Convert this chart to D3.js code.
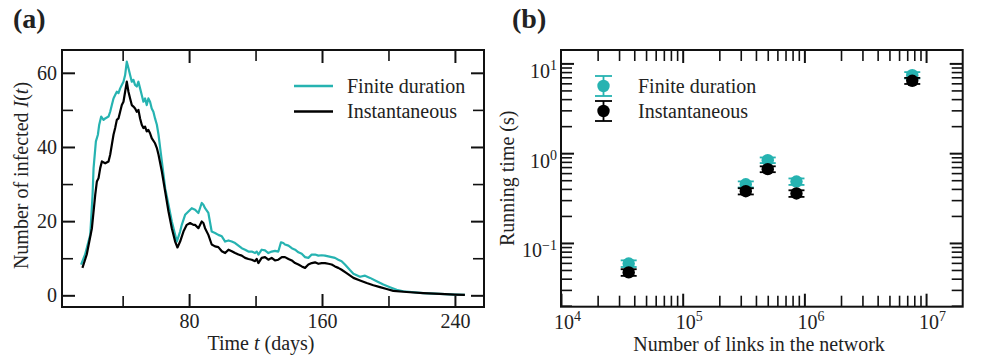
<!DOCTYPE html>
<html>
<head>
<meta charset="utf-8">
<script src="https://cdn.jsdelivr.net/npm/d3@7"></script>
<style>
  body { margin: 0; background: #fff; }
  text { font-family: "Liberation Serif", "DejaVu Serif", serif; fill: #222; }
</style>
</head>
<body>
<svg id="fig" width="982" height="360"></svg>
<script>
// ---- data ----
const finiteDuration = [[15.0,8.3],[17.4,11.0],[20.5,16.3],[21.9,27.1],[22.5,34.3],[23.9,41.5],[25.1,43.3],[25.9,46.0],[27.1,48.2],[28.5,47.3],[29.5,47.7],[31.5,48.2],[32.5,49.5],[33.5,51.3],[34.5,53.1],[35.5,54.0],[36.5,54.9],[37.5,54.5],[38.5,55.8],[39.5,56.7],[40.5,57.6],[41.5,59.4],[42.5,63.0],[43.5,61.2],[44.5,59.4],[45.5,57.6],[46.5,58.1],[47.5,56.7],[48.5,56.3],[49.5,57.6],[50.5,55.8],[51.5,54.0],[52.5,52.2],[53.5,53.1],[54.5,51.3],[55.5,53.1],[56.5,52.2],[57.5,50.4],[58.5,49.5],[59.5,47.7],[60.6,46.0],[61.6,43.3],[62.6,39.7],[63.6,36.1],[64.6,32.5],[65.6,28.9],[67.6,24.4],[69.6,19.9],[71.6,16.3],[72.6,14.5],[74.6,17.2],[75.6,19.0],[77.6,21.7],[79.6,22.6],[81.6,23.5],[83.6,23.1],[85.6,22.2],[87.6,24.9],[88.6,24.4],[89.6,23.5],[91.6,22.2],[93.6,17.2],[95.6,16.8],[97.6,16.3],[99.7,15.9],[101.7,14.5],[103.7,14.8],[105.7,14.5],[107.7,14.1],[109.7,13.4],[111.7,12.7],[113.7,12.3],[115.7,11.8],[117.7,11.8],[119.7,11.4],[120.7,11.8],[121.7,11.0],[123.7,12.3],[125.7,12.1],[127.7,11.4],[129.7,11.8],[131.7,12.0],[133.7,11.8],[135.3,14.3],[136.7,14.1],[137.7,13.7],[139.8,13.4],[141.8,12.7],[143.8,12.3],[145.8,11.6],[147.8,11.2],[149.8,10.3],[151.8,10.1],[153.8,11.0],[155.8,11.0],[157.8,10.7],[159.8,10.8],[161.8,10.7],[163.8,10.5],[165.8,10.3],[167.8,10.1],[169.8,9.6],[171.8,9.2],[173.8,8.3],[176.8,6.8],[178.9,5.8],[182.9,5.0],[185.9,5.3],[188.9,4.7],[192.9,3.8],[196.9,2.9],[200.9,2.2],[204.9,1.5],[208.9,1.1],[220.9,0.6],[231.0,0.37],[240,0.2],[246,0.1]];

const instantaneous = [[15.8,7.4],[18.4,11.0],[21.5,18.1],[23.5,27.1],[24.5,30.7],[25.5,31.6],[26.5,34.3],[27.5,36.1],[29.5,35.6],[31.5,36.1],[32.5,37.9],[33.5,40.6],[34.5,43.3],[35.5,45.1],[36.5,47.3],[37.5,47.7],[38.5,49.5],[39.5,51.3],[40.5,52.2],[41.5,54.9],[42.5,57.6],[43.5,54.9],[44.5,53.1],[45.5,51.3],[46.5,50.9],[47.5,50.4],[48.5,49.5],[49.5,50.0],[50.5,47.7],[51.5,46.0],[52.5,45.1],[53.5,45.5],[54.5,44.2],[55.5,44.6],[56.5,43.7],[57.5,42.4],[59.5,41.0],[60.6,39.7],[61.6,37.9],[63.6,33.4],[65.6,28.0],[67.6,22.6],[69.6,18.1],[71.6,14.5],[73.0,12.9],[74.6,14.5],[76.6,17.2],[78.6,19.0],[80.6,19.5],[82.6,19.0],[83.6,19.0],[85.6,18.1],[87.6,19.9],[88.6,19.5],[89.6,18.1],[91.6,16.3],[93.6,13.7],[95.6,13.2],[97.6,13.0],[99.7,11.9],[101.7,11.4],[103.7,12.3],[105.7,11.9],[107.7,11.4],[109.7,11.0],[111.7,10.7],[113.7,10.1],[115.7,9.8],[117.7,9.6],[119.7,9.2],[120.7,9.8],[121.7,8.7],[123.7,10.1],[125.7,10.3],[127.7,9.6],[129.7,10.1],[131.7,9.4],[133.7,9.6],[135.8,10.3],[137.7,10.3],[139.8,9.8],[141.8,9.4],[143.8,8.7],[145.8,8.3],[147.8,7.8],[149.8,7.4],[151.8,8.3],[153.8,8.7],[155.8,8.9],[157.8,8.5],[159.8,8.7],[161.8,8.7],[163.8,8.5],[165.8,8.3],[167.8,7.8],[169.8,7.4],[171.8,6.9],[174.8,6.0],[178.9,4.7],[182.9,4.0],[186.9,3.3],[190.9,2.7],[194.9,2.2],[198.9,1.7],[202.9,1.2],[210.9,0.9],[220.9,0.6],[231.0,0.37],[240,0.2],[246,0.1]];

const seriesNames = ["Finite duration", "Instantaneous"];
const timeMajor = [80, 160, 240], timeMinor = [40, 120, 200];
const infMajor = [0, 20, 40, 60], infMinor = [10, 30, 50];

const links = [36000, 330000, 500000, 861000, 7.7e6];
const finiteTime = [0.059, 0.45, 0.836, 0.483, 7.4];
const finiteErr = [0.005, 0.035, 0.06, 0.04, 0.6];
const instTime = [0.047, 0.377, 0.664, 0.356, 6.4];
const instErr = [0.004, 0.03, 0.05, 0.03, 0.5];
const linkMajor = [1e4, 1e5, 1e6, 1e7], timeLogMajor = [0.1, 1, 10];

const teal = "#26b3b1", black = "#000";
const svg = d3.select("#fig");

function frame(g, x0, y0, x1, y1) {
  g.append("rect").attr("x", x0).attr("y", y0).attr("width", x1 - x0).attr("height", y1 - y0)
    .attr("fill", "none").attr("stroke", "#111").attr("stroke-width", 2);
}
function styleAxis(sel, w) {
  sel.select(".domain").remove();
  sel.selectAll(".tick line").attr("stroke", "#111").attr("stroke-width", w);
  sel.selectAll(".tick text").style("font-size", "20px").attr("fill", "#222")
    .style("font-family", "'Liberation Serif', serif");
}
function logMinors(lo, hi) {
  const out = [];
  for (let e = Math.floor(Math.log10(lo)); e <= Math.ceil(Math.log10(hi)); e++)
    for (let m = 2; m <= 9; m++) { const v = m * Math.pow(10, e); if (v > lo && v < hi) out.push(v); }
  return out;
}

// ===== panel (a) =====
const A = {l: 62, r: 484, t: 50, b: 307};
const xa = d3.scaleLinear().domain([3.5, 257.5]).range([A.l, A.r]);
const ya = d3.scaleLinear().domain([-3.15, 66.15]).range([A.b, A.t]);
const ga = svg.append("g");

[["bottom", A.b], ["top", A.t]].forEach(([side, pos]) => {
  const mk = side === "bottom" ? d3.axisBottom : d3.axisTop;
  const maj = ga.append("g").attr("transform", `translate(0,${pos})`)
    .call(mk(xa).tickValues(timeMajor).tickSizeInner(-13).tickSizeOuter(0).tickPadding(7)
      .tickFormat(side === "bottom" ? d3.format("d") : ""));
  styleAxis(maj, 2);
  const mn = ga.append("g").attr("transform", `translate(0,${pos})`)
    .call(mk(xa).tickValues(timeMinor).tickSizeInner(-11).tickSizeOuter(0).tickFormat(""));
  styleAxis(mn, 1.6);
});
[["left", A.l], ["right", A.r]].forEach(([side, pos]) => {
  const mk = side === "left" ? d3.axisLeft : d3.axisRight;
  const maj = ga.append("g").attr("transform", `translate(${pos},0)`)
    .call(mk(ya).tickValues(infMajor).tickSizeInner(-13).tickSizeOuter(0).tickPadding(5)
      .tickFormat(side === "left" ? d3.format("d") : ""));
  styleAxis(maj, 2);
  const mn = ga.append("g").attr("transform", `translate(${pos},0)`)
    .call(mk(ya).tickValues(infMinor).tickSizeInner(-11).tickSizeOuter(0).tickFormat(""));
  styleAxis(mn, 1.6);
});

const line = d3.line().x(d => xa(d[0])).y(d => ya(d[1]));
ga.append("path").datum(finiteDuration).attr("d", line).attr("fill", "none")
  .attr("stroke", teal).attr("stroke-width", 2.2).attr("stroke-linejoin", "round");
ga.append("path").datum(instantaneous).attr("d", line).attr("fill", "none")
  .attr("stroke", black).attr("stroke-width", 2.2).attr("stroke-linejoin", "round");
frame(ga, A.l, A.t, A.r, A.b);

// legend (a)
[teal, black].forEach((c, i) => {
  const y = 86 + i * 25.5;
  ga.append("line").attr("x1", 294).attr("x2", 333).attr("y1", y).attr("y2", y)
    .attr("stroke", c).attr("stroke-width", 2.4);
  ga.append("text").attr("x", 347).attr("y", y + 6.5).style("font-size", "20px").text(seriesNames[i]);
});

ga.append("text").attr("x", 13).attr("y", 28).style("font-size", "28px").style("font-weight", "bold").text("(a)");
ga.append("text").attr("x", (A.l + A.r) / 2 - 12).attr("y", 350).attr("text-anchor", "middle")
  .style("font-size", "20px")
  .html('Time <tspan font-style="italic">t</tspan> (days)');
ga.append("text").attr("transform", `translate(28,${(A.t + A.b) / 2 - 3}) rotate(-90)`)
  .attr("text-anchor", "middle").style("font-size", "20px")
  .html('Number of infected <tspan font-style="italic">I</tspan>(<tspan font-style="italic">t</tspan>)');

// ===== panel (b) =====
const B = {l: 561, r: 962.7, t: 50, b: 306.7};
const xb = d3.scaleLog().domain([1e4, 2e7]).range([B.l, B.r]);
const yb = d3.scaleLog().domain([0.0195, 14.1]).range([B.b, B.t]);
const gb = svg.append("g");

function sup(sel) {
  sel.selectAll(".tick text").each(function (d) {
    const t = d3.select(this);
    const e = Math.round(Math.log10(d));
    t.text("");
    t.append("tspan").text("10");
    t.append("tspan").attr("dy", "-0.55em").style("font-size", "14px")
      .text(e < 0 ? "\u2212" + (-e) : String(e));
  });
}
[["bottom", B.b], ["top", B.t]].forEach(([side, pos]) => {
  const mk = side === "bottom" ? d3.axisBottom : d3.axisTop;
  const maj = gb.append("g").attr("transform", `translate(0,${pos})`)
    .call(mk(xb).tickValues(side === "bottom" ? linkMajor : linkMajor.slice(1))
      .tickSizeInner(-13).tickSizeOuter(0).tickPadding(8).tickFormat(d => side === "bottom" ? "x" : ""));
  styleAxis(maj, 2);
  if (side === "bottom") { sup(maj); maj.selectAll(".tick text").attr("dx", "0.3em"); }
  const mn = gb.append("g").attr("transform", `translate(0,${pos})`)
    .call(mk(xb).tickValues(logMinors(1e4, 2e7)).tickSizeInner(-11).tickSizeOuter(0).tickFormat(""));
  styleAxis(mn, 1.6);
});
[["left", B.l], ["right", B.r]].forEach(([side, pos]) => {
  const mk = side === "left" ? d3.axisLeft : d3.axisRight;
  const maj = gb.append("g").attr("transform", `translate(${pos},0)`)
    .call(mk(yb).tickValues(timeLogMajor).tickSizeInner(-13).tickSizeOuter(0).tickPadding(4)
      .tickFormat(d => side === "left" ? "x" : ""));
  styleAxis(maj, 2);
  if (side === "left") { sup(maj); maj.selectAll(".tick text").attr("dy", "0.7em"); }
  const mn = gb.append("g").attr("transform", `translate(${pos},0)`)
    .call(mk(yb).tickValues(logMinors(0.0195, 14.1)).tickSizeInner(-11).tickSizeOuter(0).tickFormat(""));
  styleAxis(mn, 1.6);
});

function errSeries(vals, errs, color) {
  const g = gb.append("g");
  links.forEach((x, i) => {
    const cx = xb(x), lo = yb(vals[i] - errs[i]), hi = yb(vals[i] + errs[i]);
    g.append("line").attr("x1", cx).attr("x2", cx).attr("y1", lo).attr("y2", hi).attr("stroke", color).attr("stroke-width", 1.8);
    [lo, hi].forEach(y => g.append("line").attr("x1", cx - 8).attr("x2", cx + 8).attr("y1", y).attr("y2", y)
      .attr("stroke", color).attr("stroke-width", 1.8));
    g.append("circle").attr("cx", cx).attr("cy", yb(vals[i])).attr("r", 6.2).attr("fill", color);
  });
}
errSeries(finiteTime, finiteErr, teal);
errSeries(instTime, instErr, black);
frame(gb, B.l, B.t, B.r, B.b);

// legend (b)
[teal, black].forEach((c, i) => {
  const y = 86 + i * 25;
  const x = 603.5;
  gb.append("line").attr("x1", x).attr("x2", x).attr("y1", y - 10).attr("y2", y + 10).attr("stroke", c).attr("stroke-width", 1.8);
  [y - 10, y + 10].forEach(yy => gb.append("line").attr("x1", x - 8.5).attr("x2", x + 8.5).attr("y1", yy).attr("y2", yy)
    .attr("stroke", c).attr("stroke-width", 1.8));
  gb.append("circle").attr("cx", x).attr("cy", y).attr("r", 6.2).attr("fill", c);
  gb.append("text").attr("x", 638).attr("y", y + 6.5).style("font-size", "20px").text(seriesNames[i]);
});

gb.append("text").attr("x", 512).attr("y", 28).style("font-size", "28px").style("font-weight", "bold").text("(b)");
gb.append("text").attr("x", 759).attr("y", 351).attr("text-anchor", "middle").style("font-size", "20px")
  .text("Number of links in the network");
gb.append("text").attr("transform", `translate(514,${(B.t + B.b) / 2}) rotate(-90)`)
  .attr("text-anchor", "middle").style("font-size", "20px").text("Running time (s)");
</script>
</body>
</html>
